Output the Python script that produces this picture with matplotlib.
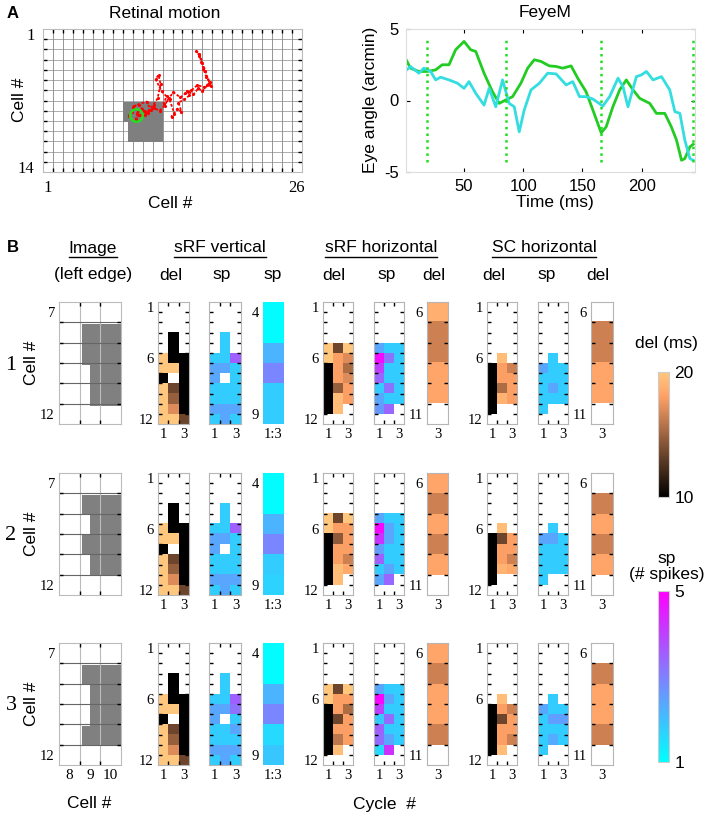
import numpy as np
import matplotlib
matplotlib.use('Agg')
import matplotlib.pyplot as plt
from matplotlib.colors import Normalize
from matplotlib.cm import ScalarMappable
from matplotlib.patches import Polygon
from matplotlib.lines import Line2D

plt.rcParams['font.family'] = 'Liberation Sans'
plt.rcParams['axes.unicode_minus'] = False
SERIF = 'Liberation Serif'

W, H = 708, 816
N = np.nan

# ---------------- data: panel A ----------------
grid_cols = 26
grid_rows = 14
shapeA_x = [8.5, 12.55, 12.55, 9.0, 9.0, 8.5]
shapeA_y = [7.65, 7.65, 11.6, 11.6, 9.6, 9.6]
traj_x = [9.4, 9.1, 9.6, 10.2, 9.8, 10.6, 10.1, 9.5, 10.9, 11.3, 10.7, 11.6, 12.0, 12.3, 12.1, 11.8,
          12.4, 12.9, 12.6, 13.2, 13.7, 13.4, 14.0, 14.4, 14.1, 14.7, 15.2, 15.0, 15.6, 16.1, 16.5,
          17.0, 17.4, 17.3, 16.9, 16.6, 16.4, 16.2, 15.9, 16.2, 16.5, 16.8, 17.2, 16.7, 16.0, 15.4,
          14.8, 14.3, 13.6, 13.1, 12.7, 12.2, 11.6, 11.0, 10.4, 9.9]
traj_y = [8.6, 9.0, 8.3, 8.9, 9.3, 8.5, 7.9, 8.1, 7.6, 8.4, 8.9, 7.9, 7.3, 5.9, 5.0, 5.4,
          6.6, 7.1, 7.8, 7.4, 8.8, 9.1, 8.3, 8.6, 7.7, 7.4, 7.0, 6.6, 6.9, 6.3, 6.6,
          6.0, 6.1, 5.7, 5.2, 4.4, 3.7, 3.1, 2.7, 2.9, 3.8, 4.6, 5.8, 6.2, 6.0, 6.5,
          6.8, 7.2, 6.7, 7.3, 8.0, 8.5, 8.2, 8.7, 8.3, 8.8]
circ_x = [9.8]
circ_y = [8.9]

t_h = [0, 4.8, 11.9, 18.9, 26, 31.6, 37.3, 42.9, 50, 55.6, 59.9, 66.9, 74, 79.7, 85.3, 91, 98,
       103.7, 109.3, 115, 122, 127.7, 133.3, 140.4, 146, 153, 158.8, 165.8, 170, 175.7, 181.4,
       187, 192.7, 198.3, 206.8, 212.4, 219.5, 225, 229.4, 233.6, 236.4, 240.7, 243.5]
eye_h = [3.03, 2.26, 2.03, 2.03, 2.14, 2.5, 2.5, 3.55, 4.13, 3.55, 3.43, 1.91, 0.62, -0.2, 0.04,
         0.27, 1.21, 2.26, 2.85, 2.73, 2.42, 2.38, 2.26, 2.42, 1.56, 0.62, -0.67, -2.26, -1.84,
         -0.43, 0.74, 1.44, 0.74, 0.15, -0.2, -0.9, -0.9, -1.84, -2.77, -4.18, -4.06, -3.24, -3.06]
t_v = [0, 4.8, 11.9, 16.1, 21.8, 26, 30.2, 37.3, 44.4, 50, 54.2, 59.9, 66.9, 71.2, 76.8, 82.5,
       88.1, 92.4, 96.6, 100.8, 106.5, 113.6, 120.6, 127.7, 136.2, 141.8, 147.5, 153, 158.8,
       167.2, 172.9, 180, 184.2, 188.4, 195.5, 199.7, 204, 209.6, 216.7, 223.7, 228, 232.2,
       236.4, 240.7, 243.5]
eye_v = [2.03, 2.38, 1.91, 2.26, 2.03, 1.44, 1.63, 1.44, 1.21, 0.85, 1.32, 0.5, -0.32, 0.85,
         -0.44, 1.44, -0.2, -0.44, -2.19, -0.67, 0.74, 1.21, 1.91, 1.86, 1.09, 1.32, 0.27, 0.27,
         0.1, -0.39, 0.27, 1.56, 0.97, -0.44, 1.67, 1.79, 2.03, 1.44, 1.67, 0.74, -0.78, -0.9,
         -2.77, -4.06, -4.18]
cycle_t = [19, 85.5, 166, 243.5]

# ---------------- data: panel B ----------------
img_x = [[8.6, 10.5, 10.5, 9.0, 9.0, 8.6],
         [8.6, 10.5, 10.5, 9.0, 9.0, 8.6, 8.6, 9.0, 9.0, 8.6],
         [8.6, 10.5, 10.5, 8.6, 8.6, 9.0, 9.0, 8.6]]
img_y = [[7.6, 7.6, 11.6, 11.6, 9.6, 9.6],
         [7.6, 7.6, 11.55, 11.55, 10.55, 10.55, 9.5, 9.5, 8.55, 8.55],
         [7.6, 7.6, 11.55, 11.55, 10.57, 10.57, 8.55, 8.55]]

E3 = [N, N, N]
vdel_1 = [E3, E3, E3, [N, 10, N], [N, 10, N], [20, 10, 10], [20, 20, 10], [10, N, 10],
          [20, 13.5, 10], [20, 14.8, 10], [20, 17, 10], [20, 20, 13.5]]
vdel_2 = [E3, E3, E3, [N, 10, N], [N, 10, N], [20, 10, 10], [20, 20, 10], [10, N, 10],
          [20, 13.5, 10], [20, 14.8, 10], [20, 17, 10], [20, 20, 13.5]]
vdel_3 = [E3, E3, E3, [N, 10, N], [N, 10, N], [20, 10, 10], [20, 20, 10], [10, N, 10],
          [20, 13.5, 10], [20, 14.8, 10], [20, 17, 10], [20, 20, 13.5]]

vsp_1 = [E3, E3, E3, [N, 1.8, N], [N, 1.8, N], [1.8, 1.8, 3.5], [2.4, 2.4, 1.8], [2.4, N, 1.8],
         [1.8, 1.8, 1.8], [1.8, 1.8, 1.8], [2.4, 2.4, 2.4], [1.8, 2.4, 1.8]]
vsp_2 = [E3, E3, E3, [N, 1.8, N], [N, 1.8, N], [1.8, 1.8, 3.5], [2.4, 2.4, 1.8], [2.4, N, 1.8],
         [1.8, 1.8, 1.8], [1.8, 1.8, 1.8], [2.4, 2.4, 2.4], [1.8, 2.4, 1.8]]
vsp_3 = [E3, E3, E3, [N, 1.8, N], [N, 1.8, N], [1.8, 1.8, 3.5], [2.4, 2.4, 3.2], [2.4, N, 1.8],
         [1.8, 1.8, 2.4], [1.8, 1.8, 1.8], [2.4, 2.4, 2.4], [1.8, 2.4, 1.8]]

vcol_1 = [[1.05], [1.05], [2.2], [2.9], [1.8], [1.8]]
vcol_2 = [[1.05], [1.05], [2.2], [2.9], [1.8], [1.7]]
vcol_3 = [[1.05], [1.05], [2.2], [2.9], [1.6], [1.9]]

hdel_1 = [E3, E3, E3, E3, [20, 13.5, 20], [20, 18, 17], [10, 18, 15.5], [10, 18, 17],
          [10, 14.8, 18], [10, 19.5, 18], [10, 19.5, N], E3]
hdel_2 = [E3, E3, E3, E3, [20, 13.5, 20], [20, 18, 18], [10, 14.5, 18], [10, 18, 18],
          [10, 18, 16.5], [10, 19.5, 18.5], [10, 19.5, N], E3]
hdel_3 = [E3, E3, E3, E3, [20, 13.5, 20], [20, 18, 18], [10, 18, 15.5], [10, 13.5, 18],
          [10, 18, 18], [10, 16, 18], [10, 19.5, N], E3]

hsp_1 = [E3, E3, E3, E3, [2.4, 1.8, 1.8], [4.8, 3.2, 1.8], [4.0, 1.8, 1.8], [3.4, 1.8, 1.8],
         [1.8, 3.2, 1.8], [2.4, 1.8, 1.8], [2.6, 3.4, N], E3]
hsp_2 = [E3, E3, E3, E3, [2.4, 1.8, 1.8], [4.9, 2.4, 1.8], [4.2, 2.4, 1.8], [2.5, 1.8, 1.8],
         [3.5, 1.8, 1.8], [1.8, 2.4, 1.8], [2.4, 3.4, N], E3]
hsp_3 = [E3, E3, E3, E3, [2.4, 1.8, 1.8], [4.9, 2.4, 1.8], [4.0, 1.8, 1.8], [1.8, 3.3, 1.8],
         [3.5, 1.8, 1.8], [3.3, 2.4, 1.8], [1.6, 4.2, N], E3]

hcol_1 = [[18.8], [16.5], [16.5], [18.3], [18.3], [N]]
hcol_2 = [[18.3], [16.5], [18.3], [16.5], [18.3], [N]]
hcol_3 = [[18.3], [16.5], [18.3], [18.3], [16.5], [N]]

sdel_1 = [E3, E3, E3, E3, E3, [N, 19.5, N], [10, 18, 16.5], [10, 18, 18], [10, 15.5, 18],
          [10, 19, 18], [10, N, N], E3]
sdel_2 = [E3, E3, E3, E3, E3, [N, 19.5, N], [10, 13.5, 18], [10, 18, 18], [10, 18, 16.5],
          [10, 19, 18.5], [10, N, N], E3]
sdel_3 = [E3, E3, E3, E3, E3, [N, 19.5, N], [10, 18, 16.5], [10, 13.5, 18], [10, 18, 18],
          [10, 18, 16.5], [10, 19.5, N], E3]

ssp_1 = [E3, E3, E3, E3, E3, [N, 1.8, N], [2.4, 1.8, 1.8], [1.8, 1.8, 1.8], [1.8, 2.4, 1.8],
         [1.8, 1.8, 1.8], [1.8, N, N], E3]
ssp_2 = [E3, E3, E3, E3, E3, [N, 1.8, N], [2.4, 2.4, 1.8], [1.8, 1.8, 1.8], [1.8, 1.8, 1.8],
         [1.8, 1.8, 1.8], [1.8, N, N], E3]
ssp_3 = [E3, E3, E3, E3, E3, [N, 1.8, N], [2.4, 1.8, 1.8], [1.8, 2.5, 2.5], [1.8, 1.8, 1.8],
         [1.8, 2.3, 1.8], [1.8, N, N], E3]

scol_1 = [[N], [16.5], [16.5], [18.3], [18.3], [N]]
scol_2 = [[N], [16.5], [18.3], [16.5], [18.3], [N]]
scol_3 = [[N], [16.5], [18.3], [18.3], [16.5], [N]]

del_range = (10, 20)
sp_range = (1, 5)

# ---------------- figure ----------------
fig = plt.figure(figsize=(W / 100, H / 100), dpi=100)
fig.patch.set_facecolor('white')


def rect(x0, y0, x1, y1):
    return [x0 / W, 1 - y1 / H, (x1 - x0) / W, (y1 - y0) / H]


def ftxt(x, y, s, **kw):
    kw.setdefault('ha', 'center')
    kw.setdefault('va', 'center')
    return fig.text(x / W, 1 - y / H, s, **kw)


copper = plt.get_cmap('copper').copy()
copper.set_bad('white')
cool = plt.get_cmap('cool').copy()
cool.set_bad('white')
dnorm = Normalize(*del_range)
snorm = Normalize(*sp_range)

# ---------- Panel A left ----------
axA = fig.add_axes(rect(43, 29, 302, 172))
axA.set_xlim(0.5, grid_cols + 0.5)
axA.set_ylim(grid_rows + 0.5, 0.5)
axA.set_xticks(np.arange(1.5, grid_cols), minor=True)
axA.set_yticks(np.arange(1.5, grid_rows), minor=True)
axA.xaxis.grid(True, which='minor', color='#6a6a6a', lw=0.5)
axA.yaxis.grid(True, which='minor', color='#8a8a8a', lw=0.5)
axA.set_xticks([1, grid_cols])
axA.set_yticks([1, grid_rows])
axA.set_xticklabels(['1', str(grid_cols)], fontfamily=SERIF, fontsize=12)
axA.set_yticklabels(['1', str(grid_rows)], fontfamily=SERIF, fontsize=12)
axA.tick_params(which='major', length=0, pad=6)
axA.tick_params(which='minor', direction='in', length=3, width=1, color='black',
                left=True, right=True, top=True, bottom=True)
for s in axA.spines.values():
    s.set_color('#bbbbbb')
axA.add_patch(Polygon(np.column_stack([shapeA_x, shapeA_y]), closed=True,
                      fc='#7f7f7f', ec='none', zorder=2))
axA.plot(traj_x, traj_y, color='red', lw=1.3, ls=(0, (1.5, 1)), marker='.', ms=2.5,
         zorder=3)
axA.plot(circ_x, circ_y, 'o', mfc='none', mec='#22dd22', mew=1.8, ms=9, zorder=4)

# ---------- Panel A right ----------
axE = fig.add_axes(rect(406, 29, 695, 172))
axE.plot(t_h, eye_h, color='#22cc22', lw=2.0)
axE.plot(t_v, eye_v, color='#33dde0', lw=2.0)
axE.vlines(cycle_t, -4.3, 4.2, colors='#22dd22', linestyles=':', lw=1.8)
axE.set_xlim(1, 245)
axE.set_ylim(-5, 5)
axE.set_xticks([50, 100, 150, 200])
axE.set_yticks([-5, 0, 5])
axE.tick_params(direction='in', length=3, labelsize=12, top=True, right=True, pad=5)
for s in axE.spines.values():
    s.set_color('#dddddd')

# ---------- Panel A texts ----------
ftxt(7, 13, 'A', fontsize=12, fontweight='bold', ha='left')
ftxt(165, 13, 'Retinal motion', fontsize=12.5)
ftxt(545, 13, 'FeyeM', fontsize=12.5)
ftxt(170, 203, 'Cell #', fontsize=12.5)
ftxt(20, 100, 'Cell #', fontsize=12.5, rotation=90)
ftxt(555, 203, 'Time (ms)', fontsize=12.5)
ftxt(371, 100, 'Eye angle (arcmin)', fontsize=12.5, rotation=90)

# ---------- Panel B ----------
RH = 122
row_tops = [302, 473, 643]


def heat(x0, x1, y0, data, cmap, norm, r0, ylab, xpos, xtxt, ticks=True):
    arr = np.ma.masked_invalid(np.array(data, dtype=float))
    nr, nc = arr.shape
    ax = fig.add_axes(rect(x0, y0, x1, y0 + RH))
    ax.imshow(arr, cmap=cmap, norm=norm, aspect='auto', interpolation='nearest',
              extent=(0.5, nc + 0.5, r0 + nr - 0.5, r0 - 0.5))
    ax.set_xlim(0.5, nc + 0.5)
    ax.set_ylim(r0 + nr - 0.5, r0 - 0.5)
    ax.set_yticks(ylab)
    ax.set_yticklabels([str(v) for v in ylab], fontfamily=SERIF, fontsize=10.5)
    ax.set_xticks(xpos)
    ax.set_xticklabels(xtxt, fontfamily=SERIF, fontsize=10.5)
    ax.tick_params(which='major', length=0, pad=3)
    if ticks:
        ax.set_yticks(np.arange(r0 + 0.5, r0 + nr - 0.5, 1.0), minor=True)
        ax.set_xticks(np.arange(1.5, nc, 1.0), minor=True)
        ax.tick_params(which='minor', direction='in', length=3, width=1.0, color='black',
                       left=True, right=True, top=True, bottom=True)
        for s in ax.spines.values():
            s.set_color('#b5b5b5')
            s.set_linewidth(0.8)
    else:
        for s in ax.spines.values():
            s.set_visible(False)
    return ax


def image_panel(y0, px, py, show_x):
    ax = fig.add_axes(rect(59, y0, 121, y0 + RH))
    ax.set_xlim(7.5, 10.5)
    ax.set_ylim(12.5, 6.5)
    ax.add_patch(Polygon(np.column_stack([px, py]), closed=True, fc='#808080', ec='none', zorder=1))
    ax.set_xticks([8.5, 9.5], minor=True)
    ax.set_yticks(np.arange(7.5, 12.5), minor=True)
    ax.xaxis.grid(True, which='minor', color='#bbbbbb', lw=0.8)
    ax.yaxis.grid(True, which='minor', color='#666666', lw=0.8)
    ax.set_yticks([7, 12])
    ax.set_yticklabels(['7', '12'], fontfamily=SERIF, fontsize=10.5)
    if show_x:
        ax.set_xticks([8, 9, 10])
        ax.set_xticklabels(['8', '9', '10'], fontfamily=SERIF, fontsize=11)
    else:
        ax.set_xticks([])
    ax.tick_params(which='major', length=0, pad=3)
    ax.tick_params(which='minor', direction='in', length=3, width=1.0, color='black',
                   left=True, right=True, top=True, bottom=True)
    for s in ax.spines.values():
        s.set_color('#bbbbbb')
        s.set_linewidth(0.8)


vdel = [vdel_1, vdel_2, vdel_3]
vsp = [vsp_1, vsp_2, vsp_3]
vcol = [vcol_1, vcol_2, vcol_3]
hdel = [hdel_1, hdel_2, hdel_3]
hsp = [hsp_1, hsp_2, hsp_3]
hcol = [hcol_1, hcol_2, hcol_3]
sdel = [sdel_1, sdel_2, sdel_3]
ssp = [ssp_1, ssp_2, ssp_3]
scol = [scol_1, scol_2, scol_3]

for i, y0 in enumerate(row_tops):
    image_panel(y0, img_x[i], img_y[i], i == 2)
    heat(158, 189, y0, vdel[i], copper, dnorm, 1, [1, 6, 12], [1, 3], ['1', '3'])
    heat(209, 241, y0, vsp[i], cool, snorm, 1, [], [1, 3], ['1', '3'])
    heat(263, 284, y0, vcol[i], cool, snorm, 4, [4, 9], [1], ['1:3'], ticks=False)
    heat(323, 353, y0, hdel[i], copper, dnorm, 1, [1, 6, 12], [1, 3], ['1', '3'])
    heat(374, 404, y0, hsp[i], cool, snorm, 1, [], [1, 3], ['1', '3'])
    heat(427, 448, y0, hcol[i], copper, dnorm, 6, [6, 11], [1], ['3'])
    heat(487, 517, y0, sdel[i], copper, dnorm, 1, [1, 6, 12], [1, 3], ['1', '3'])
    heat(538, 568, y0, ssp[i], cool, snorm, 1, [], [1, 3], ['1', '3'])
    heat(591, 613, y0, scol[i], copper, dnorm, 6, [6, 11], [1], ['3'])
    yc = y0 + RH / 2
    ftxt(11, yc + 2, str(i + 1), fontsize=16, fontfamily=SERIF)
    ftxt(32, yc, 'Cell #', fontsize=12.5, rotation=90)

# colorbars
cax1 = fig.add_axes(rect(658, 372, 669, 497))
cb1 = fig.colorbar(ScalarMappable(norm=dnorm, cmap='copper'), cax=cax1, ticks=list(del_range))
cb1.ax.tick_params(length=0, labelsize=12.5, pad=4)
cb1.outline.set_edgecolor('#cccccc')
cax2 = fig.add_axes(rect(658, 591, 669, 762))
cb2 = fig.colorbar(ScalarMappable(norm=snorm, cmap='cool'), cax=cax2, ticks=list(sp_range))
cb2.ax.tick_params(length=0, labelsize=12.5, pad=4)
cb2.outline.set_edgecolor('#cccccc')
ftxt(666, 343, 'del (ms)', fontsize=12.5)
ftxt(667, 558, 'sp', fontsize=12.5)
ftxt(667, 575, '(# spikes)', fontsize=12.5)

# headers
ftxt(7, 247, 'B', fontsize=12, fontweight='bold', ha='left')
hdr1 = [('Image', 93), ('sRF vertical', 220), ('sRF horizontal', 381), ('SC horizontal', 544)]
hdr2 = [('(left edge)', 93), ('del', 171), ('sp', 222), ('sp', 273), ('del', 334),
        ('sp', 387), ('del', 434), ('del', 494), ('sp', 547), ('del', 598)]
hdr_texts = [ftxt(x, 248, s, fontsize=12.5) for s, x in hdr1]
for s, x in hdr2:
    ftxt(x, 275, s, fontsize=12.5)

ftxt(89, 803, 'Cell #', fontsize=12.5)
ftxt(384, 804, 'Cycle  #', fontsize=12.5)

# underline headers
fig.canvas.draw()
rend = fig.canvas.get_renderer()
for t in hdr_texts:
    bb = t.get_window_extent(renderer=rend)
    yline = (bb.y0 - 1.5) / (H)
    fig.add_artist(Line2D([bb.x0 / W, bb.x1 / W], [yline, yline], color='black', lw=1.0,
                          transform=fig.transFigure))

fig.savefig('out.png', dpi=100)
